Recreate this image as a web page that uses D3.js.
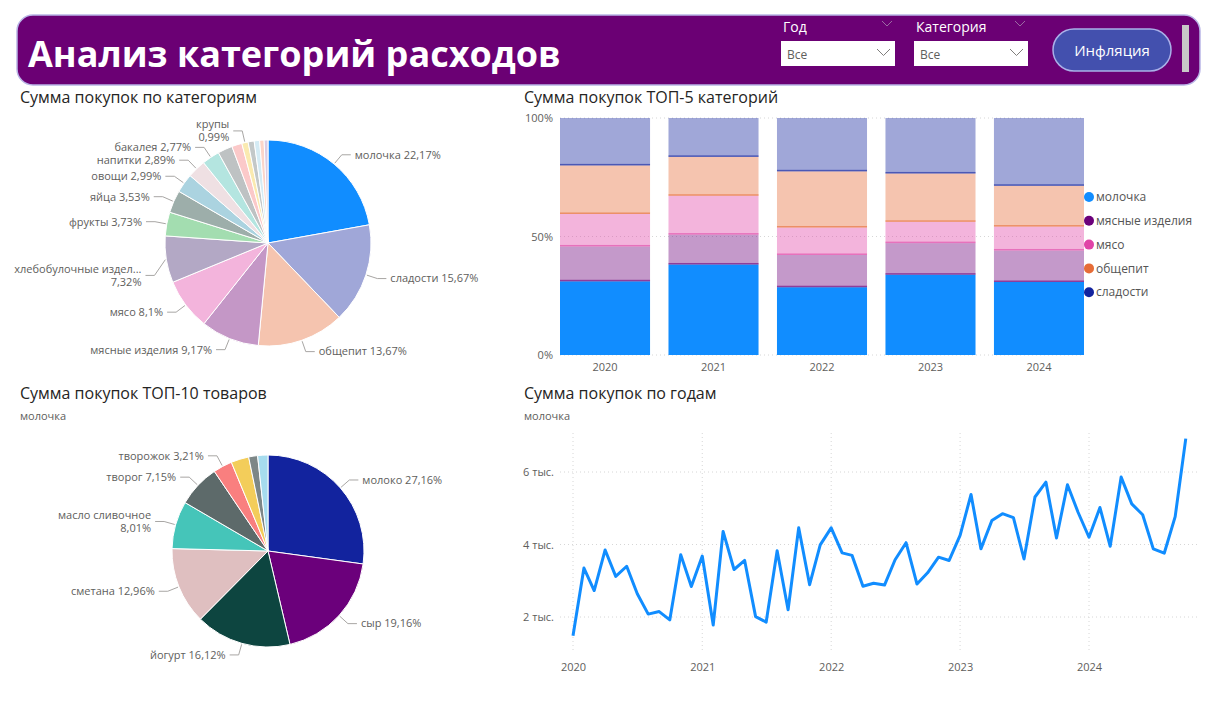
<!DOCTYPE html>
<html>
<head>
<meta charset="utf-8">
<script src="https://cdn.jsdelivr.net/npm/d3@7"></script>
<style>
  body { margin: 0; background: #fff; font-family: 'Open Sans', sans-serif; }
  svg text { font-family: 'Open Sans', sans-serif; }
</style>
</head>
<body>
<div id="wrapper"></div>
<script>
'use strict';

// --- data ---
const pieCategories = ['молочка', 'сладости', 'общепит', 'мясные изделия', 'мясо',
  'хлебобулочные изделия', 'фрукты', 'яйца', 'овощи', 'напитки', 'бакалея',
  'консервы', 'заморозка', 'крупы', 'соусы', 'чай и кофе', 'специи', 'прочее'];
const pieValues = [22.17, 15.67, 13.67, 9.17, 8.1, 7.32, 3.73, 3.53, 2.99, 2.89, 2.77,
  2.3, 1.6, 0.99, 0.95, 0.85, 0.7, 0.6];
const pieColors = ['#118DFF', '#A0A7D8', '#F5C4AF', '#C497C6', '#F3B4DC', '#B3A8C5',
  '#A3DDB0', '#9DAEAA', '#ABD3E0', '#EFE0E3', '#B4E5E0', '#BEC2C3', '#FBC9C9',
  '#FAEAB0', '#C3C8C8', '#D4EBF4', '#FCD5C8', '#D9CDE6'];
const pieLabeled = ['молочка', 'сладости', 'общепит', 'мясные изделия', 'мясо',
  'хлебобулочные изделия', 'фрукты', 'яйца', 'овощи', 'напитки', 'бакалея', 'крупы'];

const productNames = ['молоко', 'сыр', 'йогурт', 'сметана', 'масло сливочное',
  'творог', 'творожок', 'кефир', 'ряженка', 'сливки'];
const productValues = [27.16, 19.16, 16.12, 12.96, 8.01, 7.15, 3.21, 3.0, 1.5, 1.73];
const productColors = ['#12239E', '#6B007B', '#0D4540', '#DFBFC0', '#45C5B9',
  '#5D6A6A', '#F97F7F', '#F3CD5A', '#7D8787', '#A6DCEE'];
const productLabeled = ['молоко', 'сыр', 'йогурт', 'сметана', 'масло сливочное', 'творог', 'творожок'];

const twoLineLabels = ['хлебобулочные изделия', 'крупы', 'масло сливочное'];

const years = ['2020', '2021', '2022', '2023', '2024'];
const topCategories = ['молочка', 'мясные изделия', 'мясо', 'общепит', 'сладости'];
const topColors = ['#118DFF', '#6B007B', '#E044A7', '#E66C37', '#12239E'];
const shareMolochka = [31.1, 38.2, 28.6, 33.9, 30.8];
const shareMeatProducts = [14.7, 12.6, 13.6, 13.3, 13.3];
const shareMeat = [13.7, 16.4, 11.6, 9.0, 10.1];
const shareCatering = [20.5, 16.4, 23.7, 20.4, 17.2];
const shareSweets = [20.0, 16.4, 22.5, 23.4, 28.6];
const yPercentTicks = [0, 50, 100];

// monthly purchases of молочка, Jan 2020 .. Oct 2024 (thousands)
const monthlyMolochka = [
  1.48, 3.35, 2.73, 3.85, 3.12, 3.40, 2.64, 2.08, 2.15, 1.92, 3.72, 2.84,
  3.68, 1.78, 4.36, 3.31, 3.56, 2.01, 1.86, 3.83, 2.20, 4.46, 2.89, 3.99,
  4.46, 3.77, 3.70, 2.85, 2.93, 2.88, 3.58, 4.05, 2.91, 3.22, 3.65, 3.56,
  4.25, 5.38, 3.88, 4.66, 4.85, 4.74, 3.60, 5.31, 5.72, 4.18, 5.65, 4.89,
  4.20, 5.02, 3.95, 5.86, 5.12, 4.82, 3.88, 3.76, 4.77, 6.92];
const lineTicks = [2, 4, 6];

// --- page ---
const width = 1213;
const height = 710;
const textGray = '#605E5C';
const titleColor = '#252423';

const svg = d3.select('#wrapper').append('svg')
  .attr('width', width)
  .attr('height', height);

// header
const header = svg.append('g');
header.append('rect')
  .attr('x', 17).attr('y', 15).attr('width', 1183).attr('height', 70)
  .attr('rx', 16)
  .attr('fill', '#6B0074')
  .attr('stroke', '#B9B5E6').attr('stroke-width', 1.5);
header.append('text')
  .attr('x', 28).attr('y', 67)
  .attr('fill', '#fff')
  .attr('font-size', 36).attr('font-weight', 700)
  .text('Анализ категорий расходов');

function chevron (g, x, y, w, color) {
  g.append('path')
    .attr('d', `M${x},${y} L${x + w / 2},${y + w / 2} L${x + w},${y}`)
    .attr('fill', 'none').attr('stroke', color).attr('stroke-width', 1);
}

[['Год', 781], ['Категория', 914]].forEach(([label, x]) => {
  header.append('text')
    .attr('x', x + 2).attr('y', 32)
    .attr('fill', '#fff').attr('font-size', 14)
    .text(label);
  chevron(header, x + 101, 21, 10, '#9B6AA3');
  header.append('rect')
    .attr('x', x).attr('y', 41).attr('width', 114).attr('height', 25)
    .attr('fill', '#fff');
  header.append('text')
    .attr('x', x + 6).attr('y', 59)
    .attr('fill', textGray).attr('font-size', 12)
    .text('Все');
  chevron(header, x + 96, 49, 13, '#807E7C');
});

header.append('rect')
  .attr('x', 1053).attr('y', 29).attr('width', 118).attr('height', 42)
  .attr('rx', 21)
  .attr('fill', '#4350AE')
  .attr('stroke', '#A9B0E8').attr('stroke-width', 1.5);
header.append('text')
  .attr('x', 1112).attr('y', 56)
  .attr('text-anchor', 'middle')
  .attr('fill', '#fff').attr('font-size', 15)
  .text('Инфляция');
header.append('rect')
  .attr('x', 1182).attr('y', 25).attr('width', 7).attr('height', 47)
  .attr('fill', '#C8C8C8');

function title (x, y, text, subtitle) {
  svg.append('text')
    .attr('x', x).attr('y', y)
    .attr('fill', titleColor).attr('font-size', 16)
    .text(text);
  if (subtitle) {
    svg.append('text')
      .attr('x', x).attr('y', y + 21)
      .attr('fill', textGray).attr('font-size', 11)
      .text(subtitle);
  }
}

title(20, 103, 'Сумма покупок по категориям');
title(524, 103, 'Сумма покупок ТОП-5 категорий');
title(20, 399, 'Сумма покупок ТОП-10 товаров', 'молочка');
title(524, 399, 'Сумма покупок по годам', 'молочка');

// --- pie with outside labels ---
const fmtPct = v => String(v).replace('.', ',') + '%';

function drawPie (names, values, colors, labeled, cx, cy, r) {
  const data = names.map((n, i) => ({ name: n, value: values[i], color: colors[i] }));
  const pie = d3.pie().sort(null).value(d => d.value);
  const arc = d3.arc().innerRadius(0).outerRadius(r);
  const arcs = pie(data);
  const g = svg.append('g').attr('transform', `translate(${cx},${cy})`);

  g.selectAll('path.slice')
    .data(arcs)
    .join('path')
    .attr('class', 'slice')
    .attr('d', arc)
    .attr('fill', d => d.data.color)
    .attr('stroke', '#fff')
    .attr('stroke-width', 1);

  const edge = d3.arc().innerRadius(r + 1).outerRadius(r + 1);
  const elbow = d3.arc().innerRadius(r + 12).outerRadius(r + 12);

  const labels = arcs.filter(d => labeled.includes(d.data.name)).map(d => {
    const mid = (d.startAngle + d.endAngle) / 2;
    return {
      d,
      right: mid < Math.PI,
      twoLines: twoLineLabels.includes(d.data.name),
      p0: edge.centroid(d),
      p1: elbow.centroid(d),
    };
  });

  // a two-line label on the left is pushed down when the label above it is too close
  labels.forEach((l, i) => {
    const above = labels[i + 1];
    if (!l.right && l.twoLines && above && !above.right && l.p1[1] - above.p1[1] < 42) {
      l.p1[1] += 14;
    }
  });

  labels.forEach(({ d, right, twoLines, p0, p1 }) => {
    const p2 = [p1[0] + (right ? 9 : -9), p1[1]];
    g.append('path')
      .attr('d', `M${p0[0]},${p0[1]} L${p1[0]},${p1[1]} L${p2[0]},${p2[1]}`)
      .attr('fill', 'none').attr('stroke', '#A8A6A4').attr('stroke-width', 1);

    let lines;
    if (twoLines) {
      const name = d.data.name.length > 19 ? d.data.name.slice(0, 19) + '...' : d.data.name;
      lines = [name, fmtPct(d.data.value)];
    } else {
      lines = [d.data.name + ' ' + fmtPct(d.data.value)];
    }
    const t = g.append('text')
      .attr('x', p2[0] + (right ? 4 : -4))
      .attr('y', p1[1])
      .attr('text-anchor', right ? 'start' : 'end')
      .attr('fill', textGray).attr('font-size', 11);
    lines.forEach((line, i) => {
      t.append('tspan')
        .attr('x', p2[0] + (right ? 4 : -4))
        .attr('dy', i === 0 ? `${0.35 - (lines.length - 1) * 0.6}em` : '1.2em')
        .text(line);
    });
  });
}

drawPie(pieCategories, pieValues, pieColors, pieLabeled, 268, 243, 103);
drawPie(productNames, productValues, productColors, productLabeled, 268, 551, 96);

// --- 100% stacked bars ---
const shareSeries = [shareMolochka, shareMeatProducts, shareMeat, shareCatering, shareSweets];
const barTable = years.map((y, i) => {
  const row = { year: y };
  topCategories.forEach((c, k) => { row[c] = shareSeries[k][i]; });
  return row;
});
const stacked = d3.stack().keys(topCategories)(barTable);

const barX = d3.scaleBand().domain(years).range([560, 1084]).paddingInner(0.17);
const barY = d3.scaleLinear().domain([0, 100]).range([355, 118]);
const barColor = d3.scaleOrdinal().domain(topCategories).range(topColors);

const barG = svg.append('g');
barG.selectAll('line.grid')
  .data(yPercentTicks)
  .join('line')
  .attr('class', 'grid')
  .attr('x1', 560).attr('x2', 1084)
  .attr('y1', d => barY(d)).attr('y2', d => barY(d))
  .attr('stroke', '#D6D6D6').attr('stroke-dasharray', '1,3');

const yAxisBar = barG.append('g')
  .attr('transform', 'translate(553,0)')
  .call(d3.axisLeft(barY).tickValues(yPercentTicks).tickFormat(d => d + '%').tickSize(0).tickPadding(0));
yAxisBar.select('.domain').remove();
yAxisBar.selectAll('text').attr('fill', textGray).attr('font-size', 11);

stacked.forEach(layer => {
  const key = layer.key;
  const highlighted = key === 'молочка';
  barG.selectAll(null)
    .data(layer)
    .join('rect')
    .attr('x', d => barX(d.data.year))
    .attr('width', barX.bandwidth())
    .attr('y', d => barY(d[1]))
    .attr('height', d => barY(d[0]) - barY(d[1]))
    .attr('fill', barColor(key))
    .attr('fill-opacity', highlighted ? 1 : 0.4);
  if (!highlighted) {
    barG.selectAll(null)
      .data(layer)
      .join('rect')
      .attr('x', d => barX(d.data.year))
      .attr('width', barX.bandwidth())
      .attr('y', d => barY(d[0]) - 1.5)
      .attr('height', 1.5)
      .attr('fill', barColor(key))
      .attr('fill-opacity', 0.6);
  }
});

const xAxisBar = barG.append('g')
  .attr('transform', 'translate(0,355)')
  .call(d3.axisBottom(barX).tickSize(0).tickPadding(8));
xAxisBar.select('.domain').remove();
xAxisBar.selectAll('text').attr('fill', textGray).attr('font-size', 11);

// legend
const legend = svg.append('g').attr('transform', 'translate(1089,197)');
topCategories.forEach((c, i) => {
  legend.append('circle')
    .attr('cx', 0).attr('cy', i * 23.8).attr('r', 5)
    .attr('fill', topColors[i]);
  legend.append('text')
    .attr('x', 7).attr('y', i * 23.8)
    .attr('dy', '0.35em')
    .attr('fill', '#555').attr('font-size', 12)
    .text(c);
});

// --- monthly line ---
const parseMonth = i => new Date(2020, i, 1);
const lineX = d3.scaleTime()
  .domain([new Date(2020, 0, 1), new Date(2024, 0, 1)])
  .range([573, 1089]);
const lineY = d3.scaleLinear().domain([1, 7]).range([653.25, 435.75]);

const lineG = svg.append('g');
lineG.selectAll('line.hgrid')
  .data(lineTicks)
  .join('line')
  .attr('class', 'hgrid')
  .attr('x1', 560).attr('x2', 1200)
  .attr('y1', d => lineY(d)).attr('y2', d => lineY(d))
  .attr('stroke', '#D6D6D6').attr('stroke-dasharray', '1,3');

const yearTicks = d3.timeYear.range(new Date(2020, 0, 1), new Date(2025, 0, 1));
lineG.selectAll('line.vgrid')
  .data(yearTicks)
  .join('line')
  .attr('class', 'vgrid')
  .attr('x1', d => lineX(d)).attr('x2', d => lineX(d))
  .attr('y1', 433).attr('y2', 652)
  .attr('stroke', '#D6D6D6').attr('stroke-dasharray', '1,3');

const yAxisLine = lineG.append('g')
  .attr('transform', 'translate(554,0)')
  .call(d3.axisLeft(lineY).tickValues(lineTicks).tickFormat(d => d + ' тыс.').tickSize(0).tickPadding(0));
yAxisLine.select('.domain').remove();
yAxisLine.selectAll('text').attr('fill', textGray).attr('font-size', 11);

const xAxisLine = lineG.append('g')
  .attr('transform', 'translate(0,655)')
  .call(d3.axisBottom(lineX).tickValues(yearTicks).tickFormat(d3.timeFormat('%Y')).tickSize(0).tickPadding(8));
xAxisLine.select('.domain').remove();
xAxisLine.selectAll('text').attr('fill', textGray).attr('font-size', 11);

const lineGen = d3.line()
  .x((d, i) => lineX(parseMonth(i)))
  .y(d => lineY(d));

lineG.append('path')
  .attr('d', lineGen(monthlyMolochka))
  .attr('fill', 'none')
  .attr('stroke', '#118DFF')
  .attr('stroke-width', 3)
  .attr('stroke-linejoin', 'round');
</script>
</body>
</html>
